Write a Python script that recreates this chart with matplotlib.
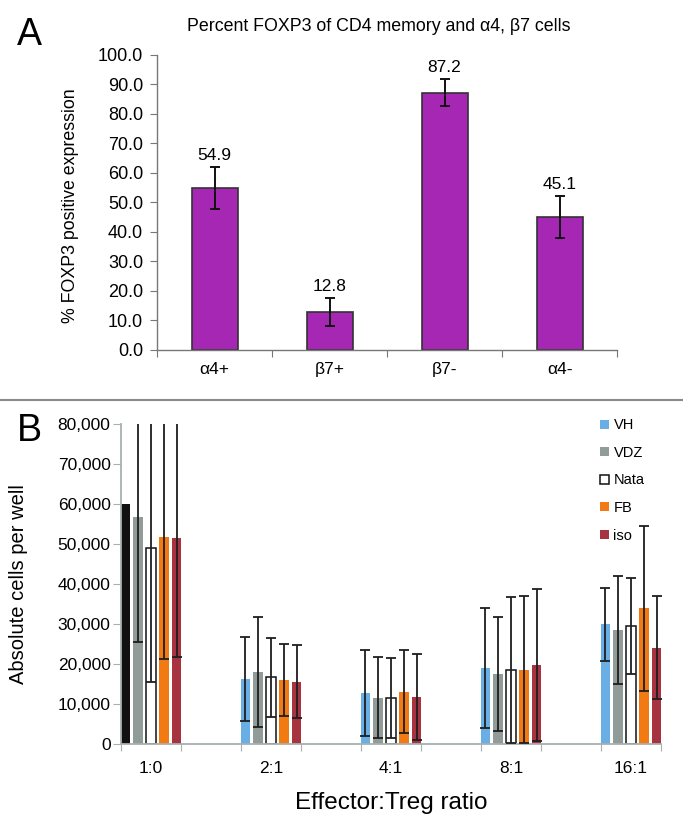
import matplotlib
matplotlib.use("Agg")
import matplotlib.pyplot as plt
from matplotlib.lines import Line2D
from matplotlib.ticker import FuncFormatter, FixedLocator
import numpy as np

plt.rcParams['font.family'] = ['Liberation Sans', 'DejaVu Sans']

# ---- panel A data
a_labels = ['α4+', 'β7+', 'β7-', 'α4-']
a_values = [54.9, 12.8, 87.2, 45.1]
a_err = [7.1, 4.8, 4.5, 7.1]

# ---- panel B data
b_ratios = ['1:0', '2:1', '4:1', '8:1', '16:1']
b_series = ['VH', 'VDZ', 'Nata', 'FB', 'iso']
vh = [60000, 16200, 12750, 18900, 29900]
vh_err = [0, 10500, 10700, 15000, 9100]
vdz = [56700, 18000, 11600, 17500, 28500]
vdz_err = [31100, 13800, 10100, 14200, 13500]
nata = [49100, 16700, 11600, 18500, 29600]
nata_err = [33500, 9900, 10000, 18200, 12000]
fb = [51800, 16000, 13100, 18600, 33900]
fb_err = [30600, 9000, 10400, 18400, 20600]
iso = [51400, 15600, 11700, 19800, 24100]
iso_err = [29700, 9100, 10800, 19000, 12800]

fig = plt.figure(figsize=(6.83, 8.25), dpi=100)

# ================= panel A
axA = fig.add_axes([0.2299, 0.5758, 0.6735, 0.3576])
xa = np.arange(len(a_labels))
axA.bar(xa, a_values, width=0.4, color='#A727B5', edgecolor='#333333', linewidth=1.2, zorder=2)
axA.errorbar(xa, a_values, yerr=a_err, fmt='none', ecolor='#111111',
             elinewidth=1.4, capsize=3.6, capthick=1.4, zorder=3)
for xi, v, e in zip(xa, a_values, a_err):
    axA.text(xi, v + e + 1.5, '%.1f' % v, ha='center', va='bottom', fontsize=12.5)

axA.set_xlim(-0.5, len(a_labels) - 0.5)
axA.set_ylim(0, 100)
axA.set_yticks(np.arange(0, 101, 10))
axA.yaxis.set_major_formatter(FuncFormatter(lambda v, p: '%.1f' % v))
axA.xaxis.set_major_locator(FixedLocator(np.arange(-0.5, len(a_labels), 1.0)))
axA.xaxis.set_major_formatter(FuncFormatter(lambda v, p: ''))
axA.xaxis.set_minor_locator(FixedLocator(xa))
axA.set_xticklabels(a_labels, minor=True)
axA.tick_params(axis='x', which='minor', length=0, pad=9, labelsize=12.5)
axA.tick_params(axis='x', which='major', length=5, color='#777777', direction='out')
axA.tick_params(axis='y', length=5, color='#777777', pad=5, labelsize=13)
for s in ['top', 'right']:
    axA.spines[s].set_visible(False)
for s in ['left', 'bottom']:
    axA.spines[s].set_color('#777777')
    axA.spines[s].set_linewidth(1.0)
axA.set_ylabel('% FOXP3 positive expression', fontsize=12.8)
axA.yaxis.set_label_coords(-0.17, 0.49)

fig.text(0.555, 0.968, 'Percent FOXP3 of CD4 memory and α4, β7 cells',
         ha='center', va='center', fontsize=12.8)
fig.text(0.025, 0.958, 'A', ha='left', va='center', fontsize=27)

# separator
fig.add_artist(Line2D([0, 1], [1 - 400 / 825] * 2, color='#8a8a8a', lw=1.5))

# ================= panel B
axB = fig.add_axes([0.1772, 0.0982, 0.7906, 0.3879])
ncat = 2 * len(b_ratios) - 1
xg = np.arange(0, ncat, 2)
values = [vh, vdz, nata, fb, iso]
errors = [vh_err, vdz_err, nata_err, fb_err, iso_err]
colors = ['#6AAEE6', '#919C99', 'white', '#F27A12', '#A6333F']
pitch = 0.215
bw = 0.155
for i, (name, vals, errs, c) in enumerate(zip(b_series, values, errors, colors)):
    xs = xg + (i - 2) * pitch
    if name == 'Nata':
        axB.bar(xs, vals, width=bw, color='white', edgecolor='#111111', linewidth=1.1,
                label=name, zorder=2)
    else:
        fc = [c] * len(vals)
        if name == 'VH':
            fc[0] = '#111111'
        axB.bar(xs, vals, width=bw, color=fc, linewidth=0, label=name, zorder=2)
    mask = np.array(errs) > 0
    axB.errorbar(xs[mask], np.array(vals)[mask], yerr=np.array(errs)[mask], fmt='none',
                 ecolor='#1e1e1e', elinewidth=1.3, capsize=3.5, capthick=1.3, zorder=3)

axB.set_xlim(-0.5, ncat - 0.5)
axB.set_ylim(0, 80000)
axB.set_yticks(np.arange(0, 80001, 10000))
axB.yaxis.set_major_formatter(FuncFormatter(lambda v, p: '{:,.0f}'.format(v)))
axB.xaxis.set_major_locator(FixedLocator(np.arange(-0.5, ncat, 1.0)))
axB.xaxis.set_major_formatter(FuncFormatter(lambda v, p: ''))
axB.xaxis.set_minor_locator(FixedLocator(xg))
axB.set_xticklabels(b_ratios, minor=True)
axB.tick_params(axis='x', which='minor', length=0, pad=12, labelsize=12.5)
axB.tick_params(axis='x', which='major', length=5, color='#A8B0B0', direction='out')
axB.tick_params(axis='y', length=6, color='#A8B0B0', pad=1.5, labelsize=12.5)
for s in ['top', 'right']:
    axB.spines[s].set_visible(False)
for s in ['left', 'bottom']:
    axB.spines[s].set_color('#A8B0B0')
    axB.spines[s].set_linewidth(1.3)
axB.set_ylabel('Absolute cells per well', fontsize=14.5)
axB.yaxis.set_label_coords(-0.172, 0.5)
axB.set_xlabel('Effector:Treg ratio', fontsize=17.5)
axB.xaxis.set_label_coords(0.5, -0.15)

leg = axB.legend(loc='upper left', bbox_to_anchor=(0.879, 0.493), bbox_transform=fig.transFigure,
                 frameon=False, fontsize=10.5, handlelength=0.6, handleheight=0.6,
                 handletextpad=0.3, labelspacing=0.93, borderpad=0, borderaxespad=0)
leg.legend_handles[0].set_facecolor(colors[0])

fig.text(0.025, 0.4776, 'B', ha='left', va='center', fontsize=27)

fig.savefig('out.png', dpi=100)
